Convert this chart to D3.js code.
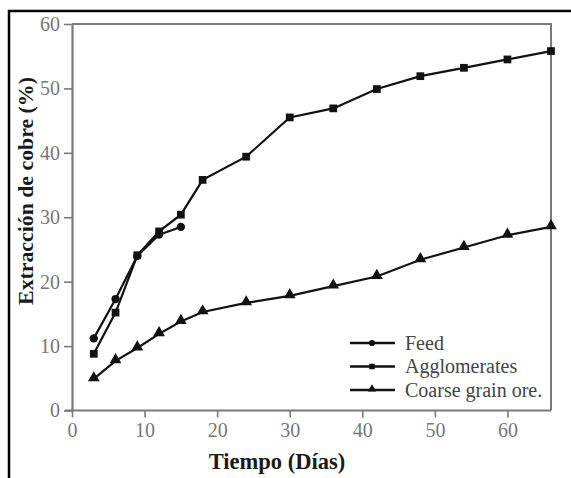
<!DOCTYPE html>
<html><head><meta charset="utf-8">
<script src="https://cdn.jsdelivr.net/npm/d3@7"></script>
<style>html,body{margin:0;padding:0;background:#fff;}svg{display:block;} text{font-family:"Liberation Serif","DejaVu Serif",serif;}</style>
</head><body>
<script>
const days = [3, 6, 9, 12, 15, 18, 24, 30, 36, 42, 48, 54, 60, 66];
const feed = [11.2, 17.3, 24.0, 27.3, 28.5];
const agglomerates = [8.8, 15.2, 24.1, 27.8, 30.4, 35.8, 39.4, 45.5, 46.9, 49.9, 51.9, 53.2, 54.5, 55.8];
const coarse = [4.9, 7.7, 9.7, 11.9, 13.8, 15.3, 16.7, 17.8, 19.3, 20.8, 23.4, 25.3, 27.2, 28.5];
const xTicks = [0, 10, 20, 30, 40, 50, 60];
const yTicks = [0, 10, 20, 30, 40, 50, 60];
const seriesNames = ["Feed", "Agglomerates", "Coarse grain ore."];
const seriesValues = [feed, agglomerates, coarse];
const markerTypes = [d3.symbolCircle, d3.symbolSquare, d3.symbolTriangle];

const W = 571, H = 478;
const svg = d3.select("body").append("svg").attr("width", W).attr("height", H);

// outer frame
svg.append("path").attr("d", `M9,${H} L9,11 L${W},11`).attr("fill", "none")
  .attr("stroke", "#000").attr("stroke-width", 2.5);

const mL = 72, mR = 551, mT = 24, mB = 410.5;
const x = d3.scaleLinear().domain([0, 66]).range([mL, mR]);
const y = d3.scaleLinear().domain([0, 60]).range([mB, mT]);
const axisCol = "#7a7a7a";
const serif = "Liberation Serif, DejaVu Serif, serif";

// top & right border
svg.append("path").attr("d", `M${mL},${mT} L${mR},${mT} L${mR},${mB}`)
  .attr("fill", "none").attr("stroke", axisCol).attr("stroke-width", 2);

const xAxis = svg.append("g").attr("transform", `translate(0,${mB})`)
  .call(d3.axisBottom(x).tickValues(xTicks).tickSize(7).tickPadding(5).tickSizeOuter(0));
const yAxis = svg.append("g").attr("transform", `translate(${mL},0)`)
  .call(d3.axisLeft(y).tickValues(yTicks).tickSize(8).tickPadding(4).tickSizeOuter(0));
[xAxis, yAxis].forEach(g => {
  g.attr("font-family", null);
  g.select(".domain").attr("stroke", axisCol).attr("stroke-width", 2.2);
  g.selectAll(".tick line").attr("stroke", axisCol).attr("stroke-width", 1.6);
  g.selectAll(".tick text").attr("fill", "#777").style("font-family", serif).attr("font-size", 20);
});
xAxis.select(".domain").attr("d", `M${mL - 7},0H${mR}`);

// lines and markers
const line = d3.line().x((d, i) => x(days[i])).y(d => y(d));
const sizes = [55, 60, 60];
seriesValues.forEach((vals, k) => {
  svg.append("path").datum(vals).attr("d", line).attr("fill", "none")
    .attr("stroke", "#111").attr("stroke-width", 2.2);
  svg.append("g").selectAll("path").data(vals).join("path")
    .attr("transform", (d, i) => `translate(${x(days[i])},${y(d) + (k === 2 ? -1 : 0)})`)
    .attr("d", d3.symbol(markerTypes[k], sizes[k]))
    .attr("fill", "#111");
});

// legend
const legY = [343, 366.5, 390];
seriesNames.forEach((name, k) => {
  const g = svg.append("g");
  g.append("line").attr("x1", 350).attr("x2", 395).attr("y1", legY[k]).attr("y2", legY[k])
    .attr("stroke", "#111").attr("stroke-width", 2.6);
  g.append("path").attr("transform", `translate(372,${legY[k] - (k === 2 ? 1 : 0)})`)
    .attr("d", d3.symbol(markerTypes[k], 30)).attr("fill", "#111");
  g.append("text").attr("x", 405).attr("y", legY[k] + 6.5).text(name)
    .style("font-family", serif).attr("font-size", 20).attr("fill", "#444");
});

// axis titles
svg.append("text").attr("x", 277).attr("y", 469).attr("text-anchor", "middle")
  .style("font-family", serif).attr("font-weight", "bold").attr("font-size", 22.5)
  .attr("fill", "#1a1a1a").text("Tiempo (Días)");
svg.append("text").attr("transform", "translate(33,191) rotate(-90)").attr("text-anchor", "middle")
  .style("font-family", serif).attr("font-weight", "bold").attr("font-size", 21.8)
  .attr("fill", "#1a1a1a").text("Extracción de cobre (%)");
</script>
</body></html>
